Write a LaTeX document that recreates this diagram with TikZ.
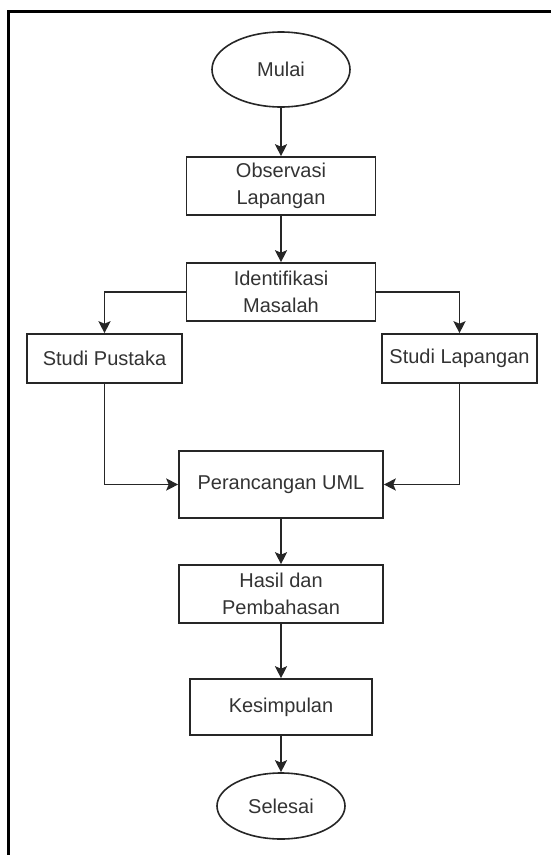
\documentclass[tikz,border=0pt]{standalone}
\usepackage{fontspec}
\setmainfont{Liberation Sans}
\usetikzlibrary{shapes.geometric,arrows.meta}
\definecolor{ink}{HTML}{262626}
\definecolor{txt}{HTML}{333333}
\begin{document}
\begin{tikzpicture}[x=1pt,y=-1pt,
  every node/.style={font=\fontsize{20}{27}\selectfont, text=txt, inner sep=0pt, align=center},
  box/.style={draw=ink, line width=1.6pt, rectangle},
  terminal/.style={draw=ink, line width=1.6pt, ellipse},
  flow/.style={draw=ink, line width=1.6pt, -{Stealth[length=12pt,width=12pt,inset=2.5pt]}}]
  \useasboundingbox (0,0) rectangle (551,855);
  % outer frame (top and left edges only)
  \draw[line width=3pt, black] (551,11) -- (8,11) -- (8,855);

  % nodes
  \node[terminal, minimum width=138pt, minimum height=75pt] (mulai) at (281,69.5) {Mulai};
  \node[box, minimum width=189pt, minimum height=58pt] (obs) at (281,186) {Observasi\\Lapangan};
  \node[box, minimum width=189pt, minimum height=58pt] (ident) at (281,292) {Identifikasi\\Masalah};
  \node[box, minimum width=155pt, minimum height=49pt] (pustaka) at (104.5,358.5) {Studi Pustaka};
  \node[box, minimum width=155pt, minimum height=49pt] (lapangan) at (459.5,358.5) {Studi Lapangan};
  \node[box, minimum width=204pt, minimum height=67pt] (uml) at (281,484.5) {Perancangan UML};
  \node[box, minimum width=204pt, minimum height=58pt] (hasil) at (281,594) {Hasil dan\\Pembahasan};
  \node[box, minimum width=182pt, minimum height=56pt] (kesimpulan) at (281,707) {Kesimpulan};
  \node[terminal, minimum width=128pt, minimum height=66pt] (selesai) at (281,806) {Selesai};

  % connectors
  \draw[flow] (mulai) -- (obs);
  \draw[flow] (obs) -- (ident);
  \draw[flow] (ident.west) -| (pustaka.north);
  \draw[flow] (ident.east) -| (lapangan.north);
  \draw[flow] (pustaka.south) |- (uml.west);
  \draw[flow] (lapangan.south) |- (uml.east);
  \draw[flow] (uml) -- (hasil);
  \draw[flow] (hasil) -- (kesimpulan);
  \draw[flow] (kesimpulan) -- (selesai);
\end{tikzpicture}
\end{document}
